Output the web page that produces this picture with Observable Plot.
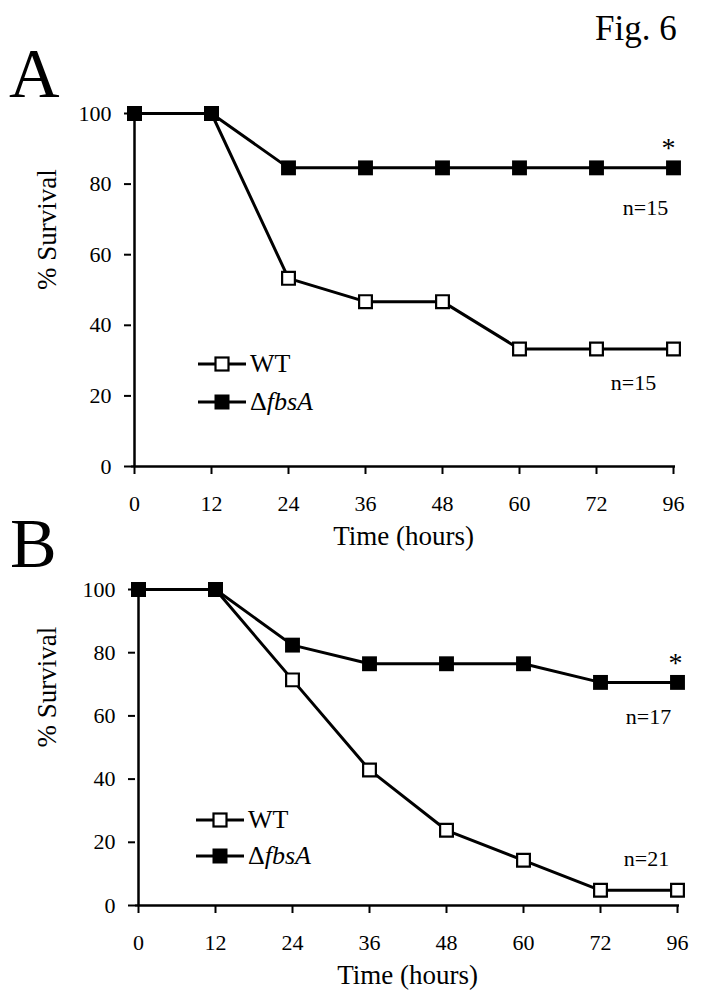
<!DOCTYPE html>
<html>
<head>
<meta charset="utf-8">
<script src="https://cdn.jsdelivr.net/npm/d3@7"></script>
<script src="https://cdn.jsdelivr.net/npm/@observablehq/plot@0.6"></script>
<style>
  html, body { margin: 0; padding: 0; background: #fff; }
  #root { position: relative; width: 726px; height: 1000px; overflow: hidden; background: #fff;
          font-family: 'Liberation Serif', serif; color: #000; }
  .abs { position: absolute; white-space: nowrap; line-height: 1; font-family: 'Liberation Serif', serif; }
  .legrow { position: absolute; height: 30px; display: flex; align-items: center; font-size: 26px;
            font-family: 'Liberation Serif', serif; }
  .legrow svg { display: block; margin-right: 4px; }
  svg text { font-family: 'Liberation Serif', serif; }
</style>
</head>
<body>
<div id="root"></div>
<script>
// ---- data ----
const times = ["0", "12", "24", "36", "48", "60", "72", "96"];
const yTicks = [0, 20, 40, 60, 80, 100];
const seriesNames = ["WT", "ΔfbsA"];
// Panel A
const wtA  = [100, 100, 53.3, 46.7, 46.7, 33.3, 33.3, 33.3];
const mutA = [100, 100, 84.6, 84.6, 84.6, 84.6, 84.6, 84.6];
const nA   = ["n=15", "n=15"];   // [WT, ΔfbsA]
// Panel B
const wtB  = [100, 100, 71.4, 42.9, 23.8, 14.3, 4.8, 4.8];
const mutB = [100, 100, 82.4, 76.5, 76.5, 76.5, 70.6, 70.6];
const nB   = ["n=21", "n=17"];   // [WT, ΔfbsA]
const star = "*";
const xLabel = "Time (hours)";
const yLabel = "% Survival";

const FONT = "Liberation Serif";
const root = document.getElementById("root");

function panel(cfg) {
  const wt = times.map((t, i) => ({time: t, value: cfg.wt[i], series: seriesNames[0]}));
  const mut = times.map((t, i) => ({time: t, value: cfg.mut[i], series: seriesNames[1]}));
  const last = times.length - 1;
  const svg = Plot.plot({
    width: 726,
    height: cfg.height,
    marginTop: cfg.mt, marginBottom: cfg.mb, marginLeft: cfg.ml, marginRight: cfg.mr,
    style: {fontFamily: FONT, color: "#000", background: "transparent", overflow: "visible"},
    x: {type: "point", domain: times, padding: 0},
    y: {domain: [0, 100]},
    marks: [
      Plot.axisY({ticks: yTicks, tickSize: 7, tickPadding: 13, fontSize: 22, fontFamily: FONT, strokeWidth: 2, label: null}),
      Plot.axisX({tickSize: 8, tickPadding: 21, fontSize: 22, fontFamily: FONT, strokeWidth: 2, label: null}),
      Plot.ruleY([0], {strokeWidth: 2.5}),
      Plot.ruleX([times[0]], {strokeWidth: 2.5}),
      Plot.text([xLabel], {frameAnchor: "bottom", lineAnchor: "bottom", dy: 78, fontSize: 27, fontFamily: FONT}),
      Plot.text([yLabel], {frameAnchor: "left", lineAnchor: "bottom", rotate: -90, dx: cfg.ylDx, fontSize: 27, fontFamily: FONT}),
      Plot.line(wt, {x: "time", y: "value", stroke: "#000", strokeWidth: 3}),
      Plot.line(mut, {x: "time", y: "value", stroke: "#000", strokeWidth: 3}),
      Plot.dot(wt, {x: "time", y: "value", symbol: "square", r: 7.2, fill: "#fff", stroke: "#000", strokeWidth: 2.2}),
      Plot.dot(mut, {x: "time", y: "value", symbol: "square", r: 8.4, fill: "#000", stroke: "none"}),
      // annotations attached to the last data points
      Plot.text([mut[last]], {x: "time", y: "value", text: () => star, fontSize: 28, fontFamily: FONT,
        dx: cfg.starOff[0], dy: cfg.starOff[1], lineAnchor: "middle"}),
      Plot.text([mut[last]], {x: "time", y: "value", text: () => cfg.n[1], fontSize: 22, fontFamily: FONT,
        dx: cfg.nMutOff[0], dy: cfg.nMutOff[1], lineAnchor: "middle"}),
      Plot.text([wt[last]], {x: "time", y: "value", text: () => cfg.n[0], fontSize: 22, fontFamily: FONT,
        dx: cfg.nWtOff[0], dy: cfg.nWtOff[1], lineAnchor: "middle"})
    ]
  });
  svg.style.position = "absolute";
  svg.style.left = "0px";
  svg.style.top = cfg.top + "px";
  root.appendChild(svg);

  // legend
  const rows = [{name: seriesNames[0], filled: false}, {name: seriesNames[1], filled: true}];
  rows.forEach((r, i) => {
    const row = document.createElement("div");
    row.className = "legrow";
    row.style.left = cfg.legX + "px";
    row.style.top = (cfg.legY[i] - 15) + "px";
    const sw = d3.create("svg").attr("width", 48).attr("height", 20);
    sw.append("line").attr("x1", 0).attr("x2", 48).attr("y1", 10).attr("y2", 10)
      .attr("stroke", "#000").attr("stroke-width", 3);
    if (r.filled) {
      sw.append("rect").attr("x", 24 - 7.5).attr("y", 10 - 7.5).attr("width", 15).attr("height", 15).attr("fill", "#000");
    } else {
      sw.append("rect").attr("x", 24 - 6.5).attr("y", 10 - 6.5).attr("width", 13).attr("height", 13)
        .attr("fill", "#fff").attr("stroke", "#000").attr("stroke-width", 2.2);
    }
    row.appendChild(sw.node());
    const label = document.createElement("span");
    if (r.name.startsWith("Δ")) {
      label.innerHTML = "Δ<i>" + r.name.slice(1) + "</i>";
    } else {
      label.textContent = r.name;
    }
    row.appendChild(label);
    root.appendChild(row);
  });
}

panel({wt: wtA, mut: mutA, n: nA, top: 0, height: 560, mt: 113, mb: 94, ml: 131, mr: 51, ylDx: -76,
       starOff: [-5, -20], nMutOff: [-28, 40], nWtOff: [-40, 34], legX: 198, legY: [364, 402]});
panel({wt: wtB, mut: mutB, n: nB, top: 480, height: 520, mt: 109, mb: 95, ml: 135, mr: 47, ylDx: -80,
       starOff: [-2, -19], nMutOff: [-29, 35], nWtOff: [-31, -31], legX: 196, legY: [820, 856]});

// panel letters and figure label
function addText(txt, left, baseline, size) {
  const d = document.createElement("div");
  d.className = "abs";
  d.style.fontSize = size + "px";
  d.style.left = left + "px";
  d.style.top = (baseline - 0.8375 * size) + "px";
  d.textContent = txt;
  root.appendChild(d);
}
addText("Fig. 6", 595, 40, 35);
addText("A", 9, 98, 70);
addText("B", 10, 568, 70);
</script>
</body>
</html>
